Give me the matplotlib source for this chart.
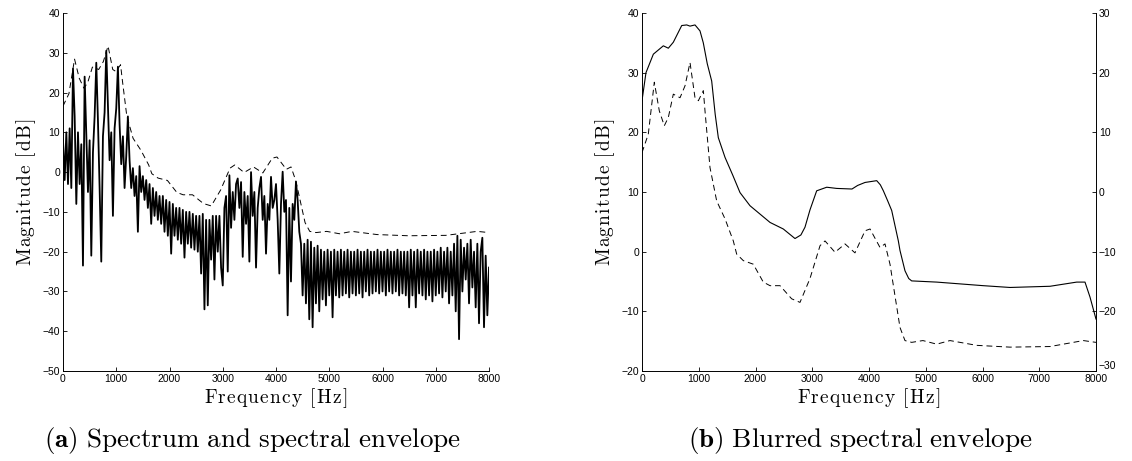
#!/usr/bin/env python

import numpy as np
import matplotlib
matplotlib.use("Agg")
import matplotlib.pyplot as plt

plt.rcParams['font.family'] = ['Liberation Sans', 'DejaVu Sans']
plt.rcParams['mathtext.fontset'] = 'cm'

#Spectrum magnitude [dB], one value every 31.25 Hz from 0 to 8000 Hz
spectrum_db = [
    8, -2, 10, -3, 11, -4, 26, 14, -8, 10,
    -3, 7, -23.5, 24, 9, -5, 8, -21, 5, 14,
    27.5, 13, -4, -22.5, 9, 15, 30.5, 17, 3, 10,
    -11, 11, 16, 26.5, 12, 2, 9, -4, 4, 14,
    3, -4, 1, -6, -1, -15, 1.5, -5, -1, -7,
    -2, -9, -3, -13, -4, -11, -5, -12, -6, -13,
    -6, -15, -7, -16, -7.5, -20.5, -8, -16, -9, -17,
    -9, -18, -9.5, -21.5, -10, -18, -10, -19, -10.5, -19.5,
    -11, -20, -11, -25.5, -10.5, -34.5, -12, -33.5, -12, -22,
    -11, -27, -11, -20, -11, -24, -28.5, -9, -6, -25,
    -0.8, -14, -5, -12, -3, -1.6, -9, -2.5, -21.3, -5,
    -13, -6, -22.5, 0, -11, -5, -24, -9, -4, -1.2,
    -12, -6, -20.5, -8, -12, -1.2, -9, -7, -3, -12,
    -25.5, -8, 0.1, -10, -7, -36, -9, -27.5, -8, -12,
    -2.4, -7, -15, -18, -31, -18, -33, -17, -37, -17.5,
    -39, -19, -33, -18.5, -35, -19.5, -32, -20, -33.5, -19.5,
    -31, -20, -36.5, -19.5, -31, -20, -31.5, -19.5, -31, -20,
    -30.5, -19.5, -31.5, -20, -30.5, -20, -31, -19.5, -30.5, -20,
    -31.5, -20, -30, -19.5, -31, -20, -30.5, -20, -30, -19.5,
    -30.5, -20, -30, -20, -31, -19.5, -30, -20, -30.5, -20,
    -30, -19.5, -31, -20, -30.5, -20, -31, -20, -34, -19.5,
    -31, -20, -34, -19.5, -30.5, -20, -31, -19.5, -32, -20,
    -31, -20, -32.5, -19.5, -31, -20, -30.5, -19, -31.5, -20,
    -30, -19, -33, -20, -31, -18, -35, -16, -42, -17,
    -30, -19, -27, -18, -33, -17, -29, -20, -34, -18,
    -38, -20, -16.5, -39, -21, -36, -24,
]

#Spectral envelope (dashed), same curve in both panels
env_freq = [0, 111, 217, 305, 393, 464, 552, 670, 758, 846,
            934, 993, 1081, 1110, 1198, 1316, 1463, 1609, 1668, 1785,
            1961, 2137, 2256, 2432, 2637, 2784, 2960, 3137, 3225, 3401,
            3577, 3753, 3930, 4018, 4194, 4282, 4370, 4546, 4634, 4752,
            4950, 5193, 5427, 5897, 6485, 7190, 7777, 8000]
env_db = [16.6, 19.7, 28.4, 23.6, 21.1, 22.5, 26.4, 25.8, 27.8, 31.7,
          25.8, 25.3, 27, 23.6, 14.1, 8.5, 5.5, 1.8, -0.4, -1.5,
          -2.1, -5.1, -5.7, -5.7, -7.9, -8.5, -4.5, 1, 1.8, -0.1,
          1.3, -0.2, 3.5, 3.8, 0.7, 1.3, -2.1, -12.7, -14.9, -15.2,
          -14.9, -15.5, -14.9, -15.7, -16, -15.9, -14.9, -15.2]

#Blurred spectral envelope (solid), right axis scale
blur_freq = [0, 70, 200, 376, 464, 552, 700, 788, 846, 934,
             1022, 1080, 1150, 1228, 1290, 1345, 1463, 1600, 1727, 1903,
             2256, 2490, 2696, 2800, 2872, 2960, 3078, 3255, 3431, 3700,
             3800, 3930, 4136, 4200, 4253, 4330, 4400, 4517, 4546, 4634,
             4700, 4752, 5193, 6014, 6485, 7190, 7660, 7806, 7894, 8000]
blur_db = [15.3, 20, 23.1, 24.5, 24.1, 25.1, 27.9, 28, 27.8, 28,
           27, 25, 21.5, 18.6, 13, 9.1, 5.8, 2.8, -0.1, -2.3,
           -5.1, -6.2, -7.8, -7.2, -5.9, -3, 0.2, 0.8, 0.6, 0.5,
           1.1, 1.6, 1.9, 1.2, 0.2, -1.5, -3.1, -8.2, -9.8, -13.2,
           -14.5, -14.9, -15.1, -15.7, -16, -15.8, -15.1, -15.1, -17.6, -21.3]

freq = np.linspace(0, 8000, len(spectrum_db))
xticks = np.arange(0, 8001, 1000)

W, H = 1132, 461
fig = plt.figure(figsize=(W/100.0, H/100.0), dpi=100)

def box(x0, x1, top, bottom):
    return [x0/float(W), 1 - bottom/float(H), (x1-x0)/float(W), (bottom-top)/float(H)]

def spaced(s):
    #letter-spaced roman text, like the original LaTeX labels
    parts = [c if c != ' ' else r'\ ' for c in s]
    return '$\\mathrm{' + r'\hspace{0.07}'.join(parts) + '}$'

lab = dict(fontsize=14)
dash = (0, (6, 4))

def style(ax):
    ax.tick_params(direction='in', length=3, width=0.6, labelsize=7.5, pad=2)
    for s in ax.spines.values():
        s.set_linewidth(0.7)

#(a) spectrum + envelope
ax1 = fig.add_axes(box(63, 489, 13, 371))
ax1.plot(freq, spectrum_db, color='black', lw=1.3)
ax1.plot(env_freq, env_db, color='black', lw=0.7, linestyle=dash)
ax1.set_xlim(0, 8000)
ax1.set_ylim(-50, 40)
ax1.set_xticks(xticks)
ax1.set_yticks(np.arange(-50, 41, 10))
ax1.spines['top'].set_visible(False)
ax1.spines['right'].set_visible(False)
style(ax1)
ax1.set_xlabel(spaced('Frequency [Hz]'), labelpad=2, **lab)
ax1.set_ylabel(spaced('Magnitude [dB]'), labelpad=3, **lab)

#(b) envelope (left axis) + blurred envelope (right axis)
ax2 = fig.add_axes(box(642, 1096, 13, 371))
ax2.plot(env_freq, env_db, color='black', lw=0.7, linestyle=dash)
ax2.set_xlim(0, 8000)
ax2.set_ylim(-20, 40)
ax2.set_xticks(xticks)
ax2.set_yticks(np.arange(-20, 41, 10))
ax2.spines['top'].set_visible(False)
ax2.spines['right'].set_visible(False)
style(ax2)
ax2.set_xlabel(spaced('Frequency [Hz]'), labelpad=2, **lab)
ax2.set_ylabel(spaced('Magnitude [dB]'), labelpad=3, **lab)

ax3 = ax2.twinx()
ax3.plot(blur_freq, blur_db, color='black', lw=0.8)
ax3.set_ylim(-30, 30)
ax3.set_yticks(np.arange(-30, 31, 10))
ax3.spines['top'].set_visible(False)
ax3.spines['left'].set_visible(False)
ax3.spines['bottom'].set_visible(False)
style(ax3)
ax3.get_yticklabels()[0].set_va('bottom')

#captions
fig.text(252/float(W), 1 - 440/float(H),
         r'$\mathbf{(a)}\ \mathrm{Spectrum\ and\ spectral\ envelope}$',
         ha='center', va='center', fontsize=19.5)
fig.text(860/float(W), 1 - 440/float(H),
         r'$\mathbf{(b)}\ \mathrm{Blurred\ spectral\ envelope}$',
         ha='center', va='center', fontsize=19.5)

fig.savefig('out.png', dpi=100)
